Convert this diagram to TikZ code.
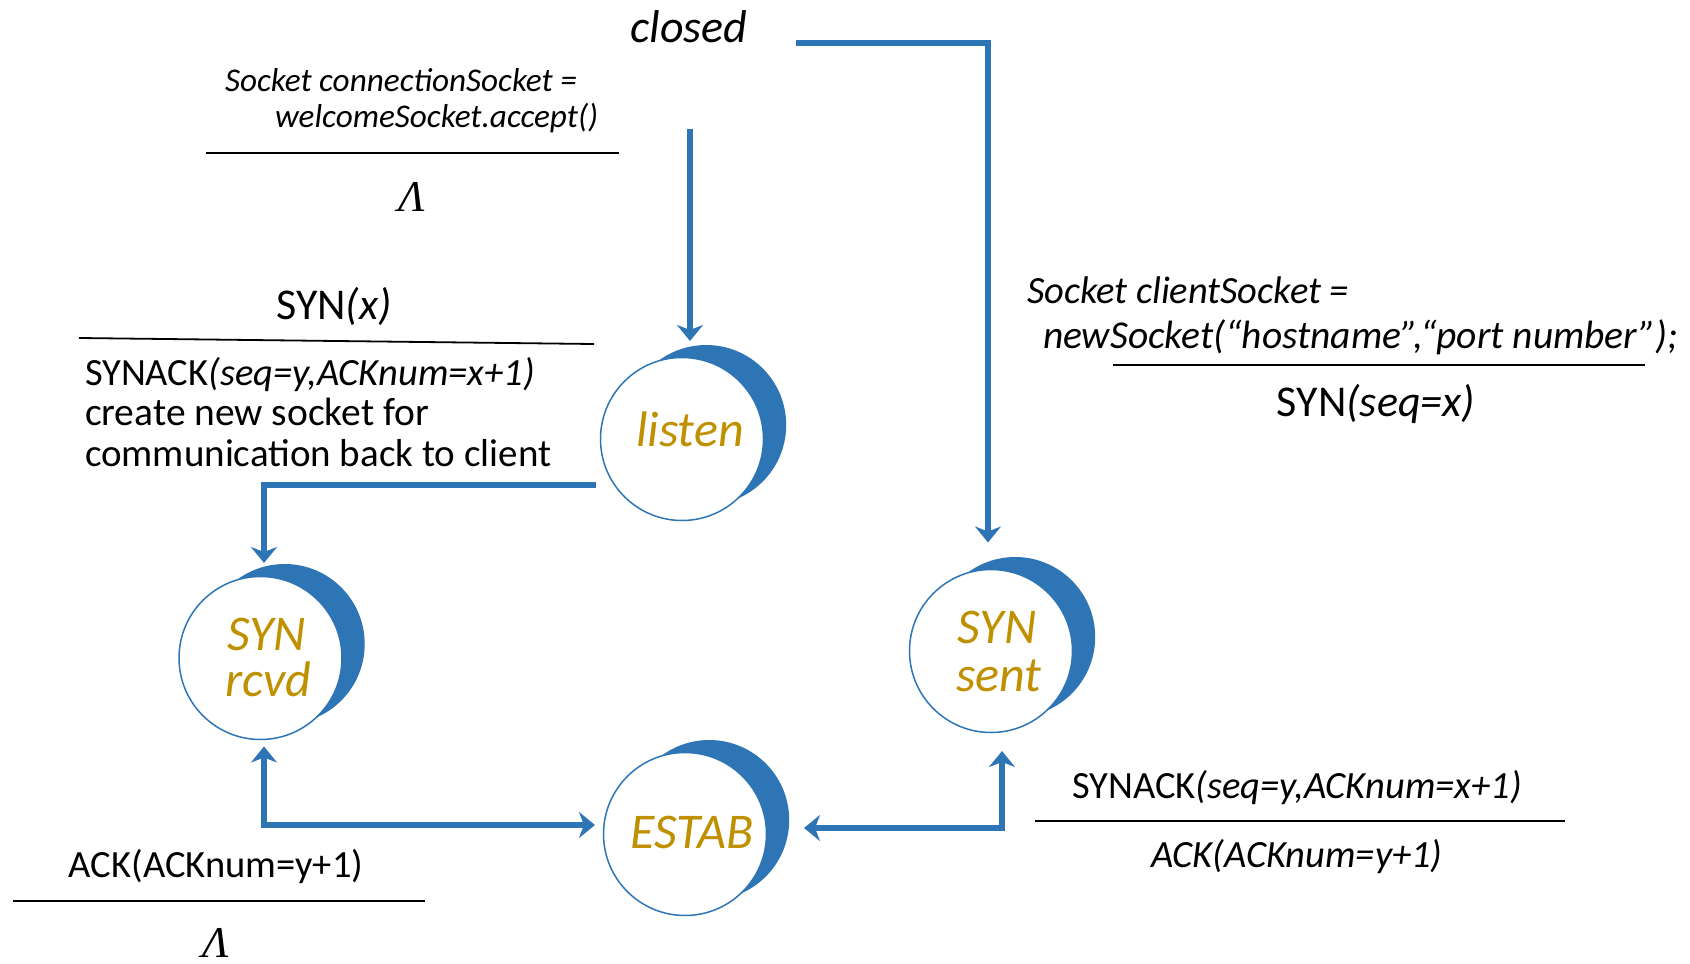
\documentclass[tikz,border=0pt]{standalone}
\usepackage{fontspec}
\setmainfont{Carlito}
\newfontfamily\lamfont{Liberation Serif}
\usetikzlibrary{arrows.meta,calc}
\definecolor{lineblue}{HTML}{2E75B6}
\definecolor{stategold}{HTML}{BF9000}
\tikzset{
  state/.style={circle, draw=lineblue, line width=1.5pt, fill=white,
    minimum size=163pt, inner sep=0pt, outer sep=0pt},
  statetext/.style={inner sep=0pt, outer sep=0pt, text=stategold,
    font=\fontsize{50}{50}\selectfont\itshape},
  crescent/.style={fill=lineblue},
  conn/.style={draw=lineblue, line width=5.5pt,
    -{Stealth[length=16pt,width=26pt,inset=5pt]}},
  conntwo/.style={draw=lineblue, line width=5.5pt,
    {Stealth[length=16pt,width=26pt,inset=5pt]}-{Stealth[length=16pt,width=26pt,inset=5pt]}},
  rule/.style={line width=1.8pt, black},
  lbl/.style={inner sep=0pt, outer sep=0pt, font=\fontsize{38.5}{40.5}\selectfont},
  lblit/.style={inner sep=0pt, outer sep=0pt, font=\fontsize{38.5}{40.5}\selectfont\itshape},
  smalllbl/.style={inner sep=0pt, outer sep=0pt, font=\fontsize{33.2}{36}\selectfont\itshape},
  guard/.style={inner sep=0pt, outer sep=0pt, font=\fontsize{44}{48}\selectfont},
  lam/.style={inner sep=0pt, outer sep=0pt, font=\fontsize{44}{48}\lamfont\itshape}
}
\begin{document}
\begin{tikzpicture}[x=1pt, y=-1pt]
\useasboundingbox (0,0) rectangle (1690,964);

% state centres
\coordinate (pls) at (682,439);
\coordinate (psr) at (260.5,658);
\coordinate (pss) at (991,651);
\coordinate (pes) at (685,834);

% crescent shading behind each state
\foreach \p in {pls,psr,pss,pes}
  \fill[crescent] ($(\p)+(24.2,-14)$) circle[radius=80pt];

% states
\node[state] (ls) at (pls) {};
\node[state] (sr) at (psr) {};
\node[state] (ss) at (pss) {};
\node[state] (es) at (pes) {};
\node[statetext, anchor=base] (lst) at ($(pls)+(8,7)$) {listen};
\node[statetext, anchor=base] (srta) at ($(psr)+(6,-8)$) {SYN};
\node[statetext, anchor=base] (srtb) at ($(psr)+(8,38)$) {rcvd};
\node[statetext, anchor=base] (ssta) at ($(pss)+(6,-8)$) {SYN};
\node[statetext, anchor=base] (sstb) at ($(pss)+(8,40)$) {sent};
\node[statetext, anchor=base] (est) at ($(pes)+(7,14)$) {ESTAB};

% closed
\node[inner sep=0pt, font=\fontsize{46}{50}\selectfont\itshape, anchor=base] (closed) at (689,42) {closed};

% server side: accept
\node[smalllbl, anchor=base west] (acca) at (225,91) {Socket connectionSocket =};
\node[smalllbl, anchor=base west] (accb) at (275,127) {welcomeSocket.accept()};
\draw[rule] (206,153) -- (619,153);
\node[lam, anchor=base] (lama) at (412,211.5) {Λ};

% SYN received
\node[guard, anchor=base] (synx) at (334,319.5) {SYN\textit{(x)}};
\draw[rule] (79,338) -- (594,344);
\node[lbl, anchor=base west] (sacka) at (85,385.5) {SYNACK\textit{(seq=y,ACKnum=x+1)}};
\node[lbl, anchor=base west, font=\fontsize{39.5}{40.5}\selectfont] (sackb) at (85,425.5) {create new socket for};
\node[lbl, anchor=base west, font=\fontsize{39}{40.5}\selectfont] (sackc) at (85,466.5) {communication back to client};

% client side: connect
\node[lblit, anchor=base west] (clia) at (1027,303.5) {Socket clientSocket =};
\node[lblit, anchor=base west, font=\fontsize{39.5}{40.5}\selectfont\itshape] (clib) at (1043,348.5) {newSocket(“hostname”,“port number”);};
\draw[rule] (1113,365) -- (1645,365);
\node[guard, anchor=base] (synseq) at (1376,416) {SYN\textit{(seq=x)}};

% SYNACK received by client
\node[lbl, anchor=base] (rsack) at (1297,798.5) {SYNACK\textit{(seq=y,ACKnum=x+1)}};
\draw[rule] (1035,821) -- (1565,821);
\node[lblit, anchor=base] (rack) at (1297,867.5) {ACK(ACKnum=y+1)};

% ACK received by server
\node[lbl, anchor=base] (lack) at (216,877.5) {ACK(ACKnum=y+1)};
\draw[rule] (13,901) -- (425,901);
\node[lam, anchor=base] (lamb) at (216,957.5) {Λ};

% transitions
\coordinate (c1) at (796,43);
\coordinate (c2) at (690,129);
\coordinate (c3) at (596,485);
\draw[conn, shorten >=27pt] (c1) -| ([xshift=-3pt]ss.north);
\draw[conn, shorten >=16.5pt] (c2) -- (c2 |- ls.north);
\draw[conn, shorten >=13.5pt] (c3) -| ([xshift=3.5pt]sr.north);
\draw[conntwo, shorten <=7pt, shorten >=8.5pt] ([xshift=3.5pt]sr.south) |- ([yshift=9pt]es.west);
\draw[conntwo, shorten <=18.5pt, shorten >=37.5pt] ([xshift=11pt]ss.south) |- ([yshift=6pt]es.east);
\end{tikzpicture}
\end{document}
